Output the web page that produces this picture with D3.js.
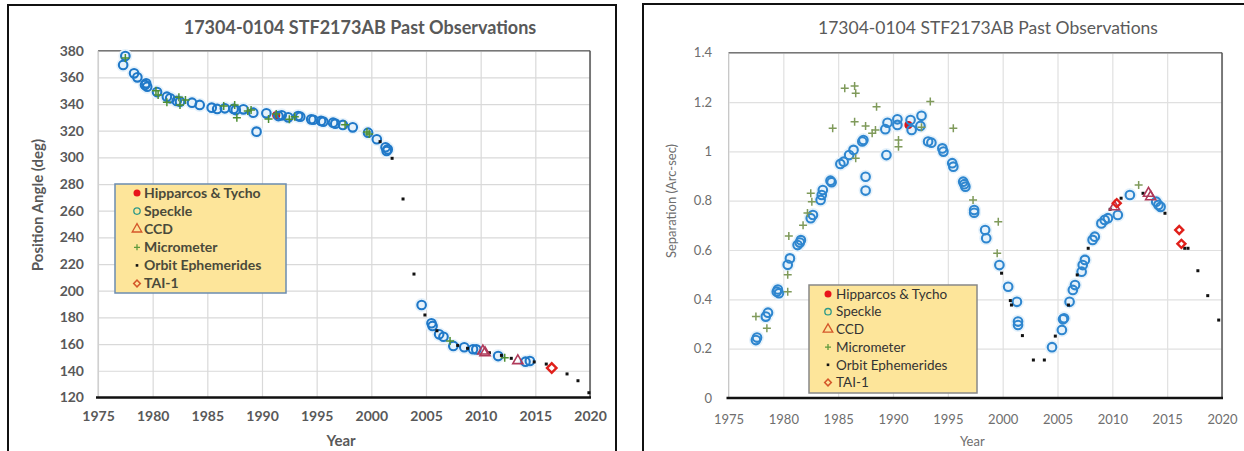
<!DOCTYPE html>
<html>
<head>
<meta charset="utf-8">
<script src="https://cdn.jsdelivr.net/npm/d3@7"></script>
<style>
  body { margin: 0; background: #fff; }
  svg { display: block; }
</style>
</head>
<body>
<script>

// ---- data: [year, value] pairs ----

var yearTicks = [1975, 1980, 1985, 1990, 1995, 2000, 2005, 2010, 2015, 2020];
var paTicks = [120, 140, 160, 180, 200, 220, 240, 260, 280, 300, 320, 340, 360, 380];
var sepTicks = [0, 0.2, 0.4, 0.6, 0.8, 1, 1.2, 1.4];

var legendNames = ["Hipparcos & Tycho", "Speckle", "CCD", "Micrometer", "Orbit Ephemerides", "TAI-1"];

// position angle (deg)
var paHipparcos = [[1991.3, 331.5]];
var paSpeckle = [[1977.3,369.3],[1977.5,376],[1978.3,363],[1978.6,360],[1979.3,354.3],[1979.5,353],[1979.4,355.5],
  [1980.4,349],[1981.3,345.5],[1981.6,344.3],[1982.2,342.3],[1982.5,341.8],[1983.6,341],[1984.3,339.3],
  [1985.4,337.3],[1985.9,336.3],[1986.6,336.8],[1987.4,336.3],[1987.6,335.5],[1988.3,336],[1989.2,333.5],
  [1989.5,319.3],[1990.4,333],[1991.5,331],[1991.8,331.5],[1992.4,330],[1993.3,331],[1993.5,330.5],
  [1994.5,328.5],[1994.7,328.2],[1995.4,327.3],[1995.6,326.8],[1996.5,326],[1996.7,325.3],[1997.4,324.3],
  [1998.3,322.5],[1999.7,318.5],[2000.5,313.6],[2001.3,307.6],[2001.4,304.8],[2001.5,306],
  [2004.6,189.3],[2005.5,175.6],[2005.6,173.6],[2006.2,167.3],[2006.6,165.5],[2007.5,158.6],[2008.5,157.6],
  [2009.3,156.1],[2009.6,156],[2011.6,151],[2014.1,146.8],[2014.5,147.3]];
var paCCD = [[2010.2,154.8],[2010.4,153.5],[2013.4,147.5]];
var paMicrometer = [[1977.5,374.5],[1980.5,346.8],[1980.3,350],[1981.3,341.3],[1982.4,345],[1982.5,339.3],
  [1983,343],[1986.5,338.5],[1987.5,339.3],[1987.7,329.8],[1988.7,334.8],[1989,335.5],[1990.6,328.8],
  [1991.3,332.5],[1992.5,328.6],[1993,330.5],[1997.6,324.5],[1999.6,319],[1999.8,317.5],[2007.2,162.3],
  [2012.2,149.8]];
var paOrbit = [[2000.8,311.8],[2001.9,299.3],[2002.9,268.8],[2003.9,212.5],[2004.9,181.8],[2006,170],
  [2007.9,159],[2008.8,156.8],[2010.8,153.5],[2011.9,151.5],[2012.8,149.3],[2014.9,146.6],[2016,145],
  [2017.9,137.6],[2018.9,132.5],[2019.9,123.5]];
var paTAI = [[2016.5,142]];

// separation (arc-sec)
var sepHipparcos = [[1991.4,1.107]];
var sepSpeckle = [[1977.5,0.235],[1977.6,0.245],[1978.4,0.33],[1978.6,0.346],[1979.4,0.431],[1979.6,0.425],
  [1979.5,0.44],[1980.4,0.54],[1980.6,0.566],[1981.3,0.62],[1981.6,0.64],[1981.5,0.63],[1982.5,0.729],
  [1982.7,0.742],[1983.4,0.803],[1983.5,0.823],[1983.6,0.843],[1984.3,0.881],[1984.4,0.875],[1985.2,0.949],
  [1985.5,0.958],[1986,0.985],[1986.4,1.006],[1987.2,1.04],[1987.3,1.046],[1987.5,0.897],[1987.5,0.841],
  [1989.3,1.09],[1989.4,0.985],[1989.5,1.116],[1990.4,1.13],[1990.4,1.107],[1991.6,1.127],[1991.7,1.087],
  [1992.5,1.103],[1992.6,1.144],[1993.2,1.04],[1993.5,1.035],[1994.5,1.012],[1994.6,0.999],[1995.4,0.952],
  [1995.5,0.938],[1996.4,0.877],[1996.6,0.857],[1996.5,0.867],[1997.4,0.762],[1997.4,0.751],[1998.4,0.681],
  [1998.5,0.648],[1999.7,0.539],[2000.5,0.451],[2001.3,0.39],[2001.4,0.31],[2001.4,0.296],[2004.5,0.206],
  [2005.4,0.276],[2005.5,0.319],[2005.6,0.323],[2006.1,0.39],[2006.4,0.438],[2006.6,0.458],[2007.2,0.512],
  [2007.3,0.539],[2007.5,0.56],[2008.2,0.641],[2008.4,0.654],[2009,0.708],[2009.3,0.722],[2009.6,0.729],
  [2010.5,0.742],[2011.6,0.823],[2014,0.796],[2014.2,0.783],[2014.4,0.775]];
var sepCCD = [[2010.2,0.775],[2013.3,0.83],[2013.5,0.816]];
var sepMicrometer = [[1977.5,0.33],[1978.5,0.283],[1980.4,0.431],[1980.4,0.5],[1980.5,0.657],[1981.8,0.70],
  [1982.2,0.75],[1982.5,0.83],[1982.6,0.796],[1984.5,1.094],[1985.6,1.256],[1986.5,1.265],[1986.6,1.236],
  [1986.5,1.12],[1986.6,0.972],[1987.5,1.103],[1988.1,1.073],[1988.4,1.087],[1988.5,1.181],[1990.5,1.046],
  [1990.5,1.019],[1992.6,1.098],[1993.4,1.202],[1995.5,1.094],[1997.3,0.803],[1999.6,0.715],[1999.5,0.587],
  [2012.4,0.864]];
var sepOrbit = [[1999.9,0.506],[2000.7,0.395],[2000.8,0.377],[2001.8,0.253],[2002.8,0.154],[2003.8,0.154],
  [2004.8,0.251],[2006,0.377],[2006.8,0.499],[2007.8,0.607],[2009.8,0.765],[2010.8,0.81],[2012.8,0.83],
  [2014.8,0.749],[2016.6,0.607],[2016.9,0.607],[2017.8,0.516],[2018.7,0.415],[2019.7,0.316]];
var sepTAI = [[2010.4,0.79],[2016.1,0.681],[2016.3,0.625]];

var svg = d3.select("body").append("svg")
    .attr("width", 1244)
    .attr("height", 451);

svg.append("rect").attr("width", 1244).attr("height", 451).attr("fill", "#fff");

var FONT = "Lato, 'Open Sans', sans-serif";

// diamond = square turned by 45 degrees
var diamond = d3.symbol().type(d3.symbolSquare);

function drawPanel(p) {
    var g = svg.append("g");

    // outer frame of the picture
    g.append("rect")
        .attr("x", p.box[0]).attr("y", p.box[1])
        .attr("width", p.box[2]).attr("height", p.box[3])
        .attr("fill", "none").attr("stroke", "#111").attr("stroke-width", 2);

    var x = d3.scaleLinear().domain([1975, 2020]).range([p.left, p.right]);
    var y = d3.scaleLinear().domain(p.yDomain).range([p.bottom, p.top]);

    // grid
    var gx = g.append("g").attr("transform", "translate(0," + p.bottom + ")")
        .call(d3.axisBottom(x).tickValues(yearTicks).tickSize(-(p.bottom - p.top)).tickFormat(""));
    var gy = g.append("g").attr("transform", "translate(" + p.left + ",0)")
        .call(d3.axisLeft(y).tickValues(p.yTicks).tickSize(-(p.right - p.left)).tickFormat(""));
    [gx, gy].forEach(function(a) {
        a.select(".domain").remove();
        a.selectAll("line").attr("stroke", p.grid).attr("stroke-width", 1.2);
    });

    // plot frame
    g.append("line").attr("x1", p.left).attr("x2", p.right).attr("y1", p.top).attr("y2", p.top)
        .attr("stroke", "#777").attr("stroke-width", 1.5);
    g.append("line").attr("x1", p.right).attr("x2", p.right).attr("y1", p.top).attr("y2", p.bottom)
        .attr("stroke", "#555").attr("stroke-width", 1.5);
    g.append("line").attr("x1", p.left).attr("x2", p.left).attr("y1", p.top).attr("y2", p.bottom)
        .attr("stroke", "#c8c8c8").attr("stroke-width", 1);
    g.append("line").attr("x1", p.left - 2).attr("x2", p.right + 1).attr("y1", p.bottom).attr("y2", p.bottom)
        .attr("stroke", "#111").attr("stroke-width", 2.5);

    // tick labels
    var ax = g.append("g").attr("transform", "translate(0," + p.bottom + ")")
        .call(d3.axisBottom(x).tickValues(yearTicks).tickSize(0).tickPadding(p.xPad).tickFormat(d3.format("d")));
    var ay = g.append("g").attr("transform", "translate(" + p.labelRight + ",0)")
        .call(d3.axisLeft(y).tickValues(p.yTicks).tickSize(0).tickPadding(0).tickFormat(function(d){ return String(d); }));
    [ax, ay].forEach(function(a) {
        a.select(".domain").remove();
        a.selectAll("text").attr("font-family", FONT).attr("font-size", p.tickSize)
            .attr("font-weight", p.tickWeight).attr("fill", p.tickColor);
    });

    // titles
    g.append("text").attr("x", p.titleX).attr("y", p.titleY).attr("text-anchor", "middle")
        .attr("font-family", FONT).attr("font-size", p.titleSize).attr("font-weight", p.titleWeight)
        .attr("fill", p.titleColor).text("17304-0104 STF2173AB Past Observations");
    g.append("text").attr("x", (p.left + p.right) / 2 - 3).attr("y", 446).attr("text-anchor", "middle")
        .attr("font-family", FONT).attr("font-size", p.axisTitleSize).attr("font-weight", p.tickWeight)
        .attr("fill", p.tickColor).text("Year");
    g.append("text").attr("transform", "translate(" + p.yTitleX + "," + p.yTitleY + ") rotate(-90)")
        .attr("text-anchor", "middle")
        .attr("font-family", FONT).attr("font-size", p.axisTitleSize).attr("font-weight", p.tickWeight)
        .attr("fill", p.tickColor).text(p.yTitle);

    // marks
    var s = p.series;
    var plot = g.append("g");

    plot.selectAll(".halo").data(s.speckle).enter().append("circle")
        .attr("cx", function(d){ return x(d[0]); }).attr("cy", function(d){ return y(d[1]); })
        .attr("r", 7).attr("fill", "#e6f2fb");

    plot.selectAll(".hip").data(s.hipparcos).enter().append("circle")
        .attr("cx", function(d){ return x(d[0]); }).attr("cy", function(d){ return y(d[1]); })
        .attr("r", 4).attr("fill", "#d9141b");

    plot.selectAll(".spk").data(s.speckle).enter().append("circle")
        .attr("cx", function(d){ return x(d[0]); }).attr("cy", function(d){ return y(d[1]); })
        .attr("r", 4.3).attr("fill", "none").attr("stroke", p.speckleColor).attr("stroke-width", 2.1);

    plot.selectAll(".mic").data(s.micrometer).enter().append("path")
        .attr("d", function(d){ var cx = x(d[0]), cy = y(d[1]);
            return "M" + (cx - 4) + "," + cy + "H" + (cx + 4) + "M" + cx + "," + (cy - 4) + "V" + (cy + 4); })
        .attr("stroke", p.microColor).attr("stroke-width", 1.5).attr("fill", "none");

    plot.selectAll(".orb").data(s.orbit).enter().append("rect")
        .attr("x", function(d){ return x(d[0]) - 1.5; }).attr("y", function(d){ return y(d[1]) - 1.5; })
        .attr("width", 3).attr("height", 3).attr("fill", "#111");

    plot.selectAll(".ccd").data(s.ccd).enter().append("path")
        .attr("d", d3.symbol().type(d3.symbolTriangle).size(45))
        .attr("transform", function(d){ return "translate(" + x(d[0]) + "," + y(d[1]) + ")"; })
        .attr("fill", "none").attr("stroke", "#b03a5a").attr("stroke-width", 1.6);

    plot.selectAll(".tai").data(s.tai).enter().append("path")
        .attr("d", diamond.size(p.taiSize))
        .attr("transform", function(d){ return "translate(" + x(d[0]) + "," + y(d[1]) + ") rotate(45)"; })
        .attr("fill", "none").attr("stroke", "#e0201b").attr("stroke-width", 2.4);

    // legend
    var L = p.legend;
    var lg = g.append("g");
    lg.append("rect").attr("x", L.x).attr("y", L.y).attr("width", L.w).attr("height", L.h)
        .attr("fill", "#fde59a").attr("stroke", L.stroke).attr("stroke-width", 1.5);

    var rows = lg.selectAll(".row").data(legendNames).enter().append("g")
        .attr("transform", function(d, i){ return "translate(" + L.mx + "," + (L.y0 + i * L.dy) + ")"; });
    rows.append("text").attr("x", L.tx - L.mx).attr("y", 0).attr("dy", "0.35em")
        .attr("font-family", FONT).attr("font-size", L.size).attr("font-weight", L.weight)
        .attr("fill", L.color).text(function(d){ return d; });

    rows.each(function(d, i) {
        var r = d3.select(this);
        if (i == 0) r.append("circle").attr("r", 3.5).attr("fill", "#e8141b");
        else if (i == 1) r.append("circle").attr("r", 3.2).attr("fill", "none").attr("stroke", "#2f9a88").attr("stroke-width", 1.3);
        else if (i == 2) r.append("path").attr("d", d3.symbol().type(d3.symbolTriangle).size(40))
            .attr("fill", "none").attr("stroke", "#d4572a").attr("stroke-width", 1.3);
        else if (i == 3) r.append("path").attr("d", "M-3,0H3M0,-3V3").attr("stroke", "#5f9a3c").attr("stroke-width", 1.3);
        else if (i == 4) r.append("rect").attr("x", -1.3).attr("y", -1.3).attr("width", 2.6).attr("height", 2.6).attr("fill", "#111");
        else r.append("path").attr("d", diamond.size(22)).attr("transform", "rotate(45)")
            .attr("fill", "none").attr("stroke", "#d4572a").attr("stroke-width", 1.5);
    });
}

drawPanel({
    box: [8, 5, 608, 452],
    left: 98, right: 590, top: 50.7, bottom: 397.4,
    yDomain: [120, 380], yTicks: paTicks,
    grid: "#d9d9d9",
    labelRight: 84, xPad: 14,
    tickSize: 14, tickWeight: "bold", tickColor: "#595959",
    titleX: 360, titleY: 34, titleSize: 18, titleWeight: "bold", titleColor: "#595959",
    axisTitleSize: 15, yTitle: "Position Angle (deg)", yTitleX: 43, yTitleY: 205,
    speckleColor: "#1f78c8", microColor: "#4f8f34", taiSize: 45,
    series: { hipparcos: paHipparcos, speckle: paSpeckle, ccd: paCCD, micrometer: paMicrometer, orbit: paOrbit, tai: paTAI },
    legend: { x: 115, y: 184, w: 171, h: 109, mx: 137, tx: 144, y0: 193, dy: 18.1,
              size: 14, weight: "bold", color: "#4a4a3a", stroke: "#6b8cb0" }
});

drawPanel({
    box: [643, 4, 604, 454],
    left: 728.5, right: 1222, top: 52.7, bottom: 398,
    yDomain: [0, 1.4], yTicks: sepTicks,
    grid: "#e0e0e0",
    labelRight: 712, xPad: 17,
    tickSize: 13, tickWeight: "normal", tickColor: "#6e6e6e",
    titleX: 988, titleY: 34, titleSize: 17.5, titleWeight: "normal", titleColor: "#5a5a5a",
    axisTitleSize: 13, yTitle: "Separation (Arc-sec)", yTitleX: 676, yTitleY: 201,
    speckleColor: "#2e86cf", microColor: "#7f9a5a", taiSize: 32,
    series: { hipparcos: sepHipparcos, speckle: sepSpeckle, ccd: sepCCD, micrometer: sepMicrometer, orbit: sepOrbit, tai: sepTAI },
    legend: { x: 809, y: 285, w: 168, h: 108, mx: 828, tx: 836, y0: 294, dy: 17.7,
              size: 13.5, weight: "normal", color: "#333", stroke: "#888" }
});

</script>
</body>
</html>
